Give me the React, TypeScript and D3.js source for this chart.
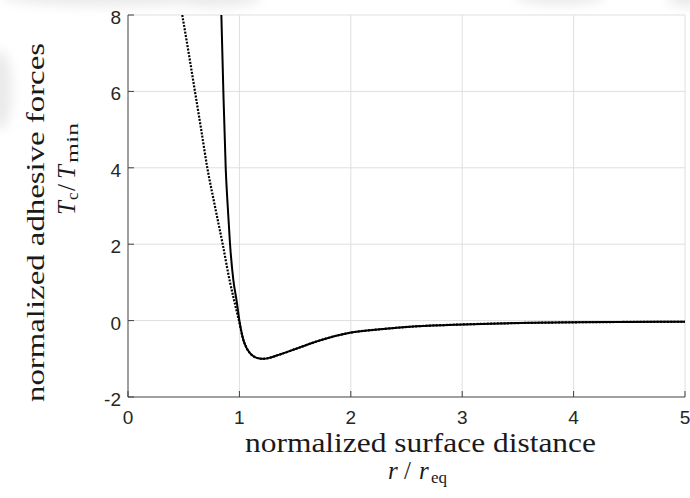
import React from "react";
import * as d3 from "d3";

// r / r_eq and normalized force T_c / T_min
const solidR = [0.838, 0.856, 0.877, 0.895, 0.916, 0.946, 0.975, 1.0, 1.035, 1.065, 1.095, 1.13, 1.17, 1.215, 1.27, 1.335, 1.43, 1.544, 1.72, 1.99, 2.29, 2.59, 3.01, 3.49, 4.0, 4.5, 5.0];
const solidT = [8, 6, 4, 3, 2, 1.05, 0.52, 0, -0.5, -0.72, -0.85, -0.94, -0.985, -1.0, -0.975, -0.915, -0.82, -0.7, -0.52, -0.32, -0.22, -0.15, -0.1, -0.065, -0.045, -0.035, -0.03];

const dottedR = [0.487, 0.545, 0.601, 0.657, 0.712, 0.78, 0.85, 0.916, 0.955, 0.996, 1.035, 1.065, 1.095, 1.13, 1.17, 1.215, 1.27, 1.335, 1.43, 1.544, 1.72, 1.99, 2.29, 2.59, 3.01, 3.49, 4.0, 4.5, 5.0];
const dottedT = [8, 7, 6, 5, 4, 3, 2, 1, 0.5, 0, -0.5, -0.72, -0.85, -0.94, -0.985, -1.0, -0.975, -0.915, -0.82, -0.7, -0.52, -0.32, -0.22, -0.15, -0.1, -0.065, -0.045, -0.035, -0.03];

const xTicks = [0, 1, 2, 3, 4, 5];
const yTicks = [-2, 0, 2, 4, 6, 8];

const W = 690;
const H = 498;
const L = 128, R = 685, T = 15, B = 397;

export default function App() {
  const x = d3.scaleLinear().domain([0, 5]).range([L, R]);
  const y = d3.scaleLinear().domain([-2, 8]).range([B, T]);
  const line = d3
    .line<[number, number]>()
    .x((d) => x(d[0]))
    .y((d) => y(d[1]))
    .curve(d3.curveMonotoneX);
  const solid = line(solidR.map((r, i) => [r, solidT[i]] as [number, number])) || "";
  const dotted = line(dottedR.map((r, i) => [r, dottedT[i]] as [number, number])) || "";
  const tickFont = "'Liberation Sans', Arial, Helvetica, sans-serif";
  const serif = "'Liberation Serif', 'Times New Roman', serif";
  const axisColor = "#404040";
  const gridColor = "#dfdfdf";
  return (
    <svg width={W} height={H} style={{ position: "absolute", left: 0, top: 0, background: "#fff" }}>
      <defs>
        <clipPath id="plot">
          <rect x={L} y={T} width={R - L} height={B - T} />
        </clipPath>
        <filter id="blur" x="-50%" y="-50%" width="200%" height="200%">
          <feGaussianBlur stdDeviation="6" />
        </filter>
      </defs>
      <rect x={0} y={0} width={W} height={H} fill="#fff" />
      {/* faint background smudges */}
      <g filter="url(#blur)" fill="#dcdcdc" opacity={0.6}>
        <ellipse cx={110} cy={-4} rx={110} ry={10} />
        <ellipse cx={215} cy={-2} rx={45} ry={9} />
        <ellipse cx={560} cy={-4} rx={45} ry={9} />
        <ellipse cx={688} cy={-2} rx={20} ry={9} />
        <ellipse cx={0} cy={90} rx={12} ry={40} />
      </g>
      {/* grid */}
      {xTicks.slice(1).map((t) => (
        <line key={"gx" + t} x1={x(t)} x2={x(t)} y1={T} y2={B} stroke={gridColor} strokeWidth={1} />
      ))}
      {yTicks.slice(1).map((t) => (
        <line key={"gy" + t} x1={L} x2={R} y1={y(t)} y2={y(t)} stroke={gridColor} strokeWidth={1} />
      ))}
      {/* curves */}
      <g clipPath="url(#plot)">
        <path d={dotted} fill="none" stroke="#000" strokeWidth={2.2} strokeDasharray="2,1.4" />
        <path d={solid} fill="none" stroke="#000" strokeWidth={2} />
      </g>
      {/* axes */}
      <line x1={L} x2={L} y1={T} y2={B} stroke={axisColor} strokeWidth={1} />
      <line x1={L} x2={R} y1={B} y2={B} stroke={axisColor} strokeWidth={1} />
      {xTicks.map((t) => (
        <line key={"tx" + t} x1={x(t)} x2={x(t)} y1={B} y2={B - 6} stroke={axisColor} strokeWidth={1} />
      ))}
      {yTicks.map((t) => (
        <line key={"ty" + t} x1={L} x2={L + 6} y1={y(t)} y2={y(t)} stroke={axisColor} strokeWidth={1} />
      ))}
      {xTicks.map((t) => (
        <text key={"lx" + t} x={x(t)} y={424} textAnchor="middle" fontFamily={tickFont} fontSize={19} fill="#262626">
          {t}
        </text>
      ))}
      {yTicks.map((t) => (
        <text key={"ly" + t} x={121} y={y(t) + 9} textAnchor="end" fontFamily={tickFont} fontSize={19} fill="#262626">
          {t}
        </text>
      ))}
      {/* x label */}
      <text x={245} y={452} fontFamily={serif} fontSize={27} fill="#1a1a1a" textLength={351} lengthAdjust="spacingAndGlyphs">
        normalized surface distance
      </text>
      <text y={479} fontFamily={serif} fontSize={25} fill="#1a1a1a">
        <tspan x={388} fontStyle="italic">r</tspan>
        <tspan x={404}>/</tspan>
        <tspan x={419} fontStyle="italic">r</tspan>
        <tspan x={431} y={483} fontSize={17}>eq</tspan>
      </text>
      {/* y label */}
      <g transform="translate(43.5,402) rotate(-90)">
        <text x={0} y={0} fontFamily={serif} fontSize={26} fill="#1a1a1a" textLength={359} lengthAdjust="spacingAndGlyphs">
          normalized adhesive forces
        </text>
      </g>
      <g transform="translate(74.5,215) rotate(-90)">
        <text y={0} fontFamily={serif} fontSize={25} fill="#1a1a1a">
          <tspan x={0} fontStyle="italic">T</tspan>
          <tspan x={15} y={3.5} fontSize={17}>c</tspan>
          <tspan x={24} y={0}>/</tspan>
          <tspan x={36} fontStyle="italic">T</tspan>
          <tspan x={52} y={3.5} fontSize={17} textLength={40} lengthAdjust="spacingAndGlyphs">min</tspan>
        </text>
      </g>
    </svg>
  );
}
